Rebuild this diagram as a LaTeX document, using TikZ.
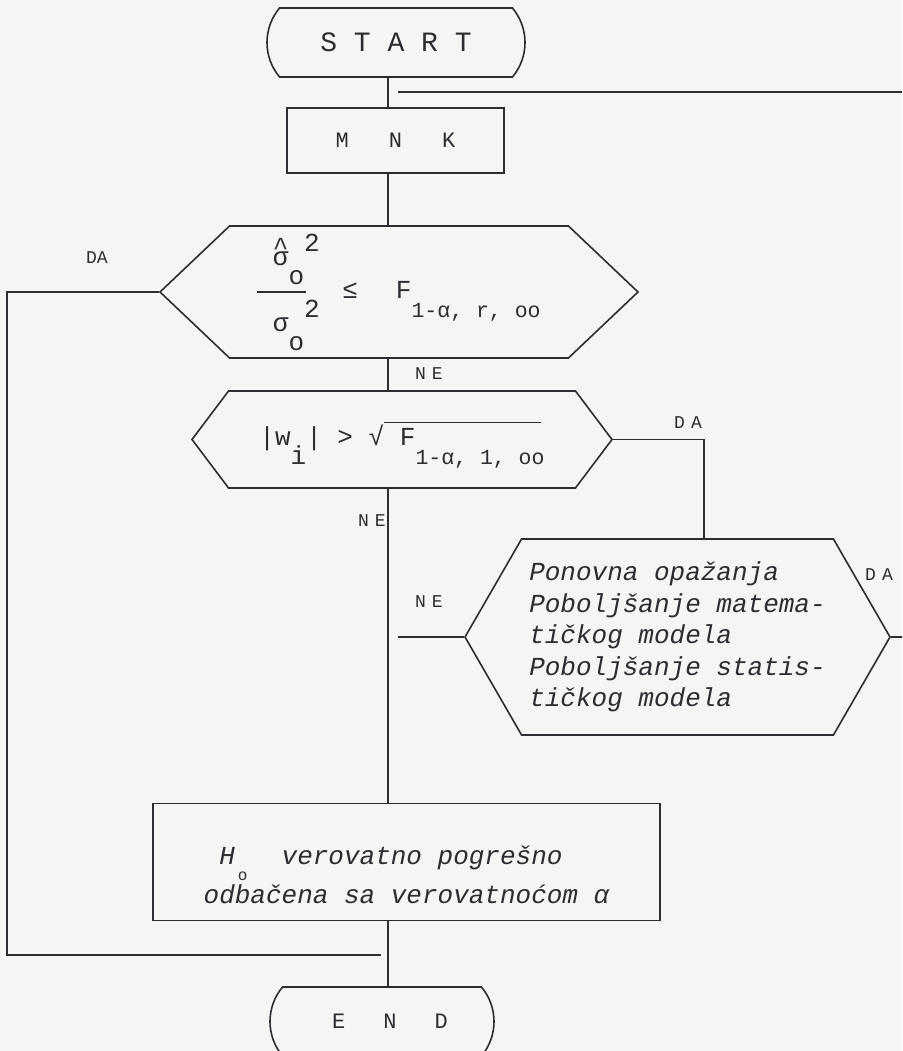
\documentclass[tikz,border=0pt]{standalone}
\usepackage{fontspec}
\setmainfont{Liberation Mono}
\usetikzlibrary{shapes.misc, shapes.symbols, positioning}

\definecolor{ink}{RGB}{45,45,48}
\definecolor{paper}{RGB}{245,245,244}

% typewriter half-line shifts
\newcommand{\tlo}[1]{\raisebox{-0.72em}{#1}}
\newcommand{\thi}[1]{\raisebox{0.55em}{#1}}
\newcommand{\hatsigma}{\rlap{\raisebox{10pt}{\textasciicircum}}σ}
\newcommand{\subsize}{\fontsize{21.5}{24}\selectfont}

\begin{document}
\begin{tikzpicture}[x=1pt,y=-1pt,color=ink,line width=1.6pt,
		font=\fontsize{26}{31.5}\selectfont]

	\tikzset{term/.style={rounded rectangle, rounded rectangle arc length=80,
			draw, inner sep=0pt, minimum height=69pt}}
	\tikzset{procbox/.style={rectangle, draw, inner sep=0pt}}
	\tikzset{testbox/.style={signal, signal to=east and west,
			draw, inner sep=0pt}}
	\tikzset{lbl/.style={inner sep=0pt, font=\fontsize{18}{20}\selectfont}}

	\useasboundingbox (0,0) rectangle (902,1051);
	\clip (0,0) rectangle (902,1051);
	\fill[paper] (0,0) rectangle (902,1051);

	% main column
	\node[term, minimum width=258pt, font=\fontsize{28}{30}\selectfont] (start) at (396,42.5) {S T A R T\hspace{18pt}};
	\node[procbox, minimum width=217pt, minimum height=65pt, font=\fontsize{22}{24}\selectfont] (mnk) at (395.5,140.5) {M\hspace{40pt}N\hspace{40pt}K\hspace{16pt}};
	\node[testbox, signal pointer angle=87, minimum width=478pt, minimum height=132pt] (ftest) at (399,292)
		{\makebox[0pt][l]{\raisebox{33pt}{\ \hatsigma\tlo{o}\thi{2}}}%
		 \makebox[0pt][l]{\raisebox{-33pt}{\ σ\tlo{o}\thi{2}}}%
		 \rule[5.5pt]{49pt}{1.5pt}\hspace{36pt}≤\hspace{38pt}F\tlo{\subsize 1-α, r,  oo}\hspace{-24pt}};
	\node[testbox, signal pointer angle=106, minimum width=420pt, minimum height=97pt] (wtest) at (402,439.5)
		{\rule{0pt}{35pt}|w\tlo{i}| > √\rlap{\rule[23pt]{157pt}{1.2pt}} F\tlo{\subsize 1-α, 1, oo}\hspace{-7pt}};
	\node[testbox, signal pointer angle=120, minimum width=425pt, minimum height=196pt, align=left,
		font=\fontsize{26}{31.5}\selectfont\itshape] (improve) at (677.5,637)
		{Ponovna opažanja\\Poboljšanje matema-\\tičkog modela\\Poboljšanje statis-\\tičkog modela};
	\node[procbox, minimum width=507pt, minimum height=117pt, align=left,
		font=\fontsize{26}{39}\selectfont\itshape] (reject) at (406.5,862)
		{\rule{0pt}{45pt}\hspace*{0.6em}H\raisebox{-0.62em}{\makebox[0.6em]{\upshape\fontsize{16}{18}\selectfont o}}\hspace*{1.2em}verovatno pogrešno\\odbačena sa verovatnoćom α};
	\node[term, minimum width=224pt, font=\fontsize{22}{24}\selectfont] (stop) at (382,1021.5) {\hspace{16pt}E\hspace{38pt}N\hspace{38pt}D};

	% branch labels
	\node[lbl] (da1) at (97,258) {DA};
	\node[lbl] (ne1) at (429,374) {N\hspace{6pt}E};
	\node[lbl] (da2) at (688,423) {D\hspace{6pt}A};
	\node[lbl] (ne2) at (372,521) {N\hspace{6pt}E};
	\node[lbl] (ne3) at (429,602) {N\hspace{6pt}E};
	\node[lbl] (da3) at (879,575) {D\hspace{6pt}A};

	\coordinate (trunk) at (388,0);
	\coordinate (loopin) at (398,92);
	\coordinate (nein) at (398,637);
	\coordinate (daside) at (704,0);
	\coordinate (dain) at (381,955);

	\draw (start.south -| trunk) -- (mnk.north -| trunk);
	\draw (mnk.south -| trunk) -- (ftest.north -| trunk);
	\draw (ftest.south -| trunk) -- (wtest.north -| trunk);
	\draw (wtest.south -| trunk) -- (reject.north -| trunk);
	\draw (reject.south -| trunk) -- (stop.north -| trunk);

	\draw (ftest.west) -- ++(-152,0) |- (dain);
	\draw (wtest.east) -| (improve.north -| daside);
	\draw (improve.west) -- (nein);
	\draw (improve.east) -- ++(40,0) |- (loopin);
\end{tikzpicture}
\end{document}
